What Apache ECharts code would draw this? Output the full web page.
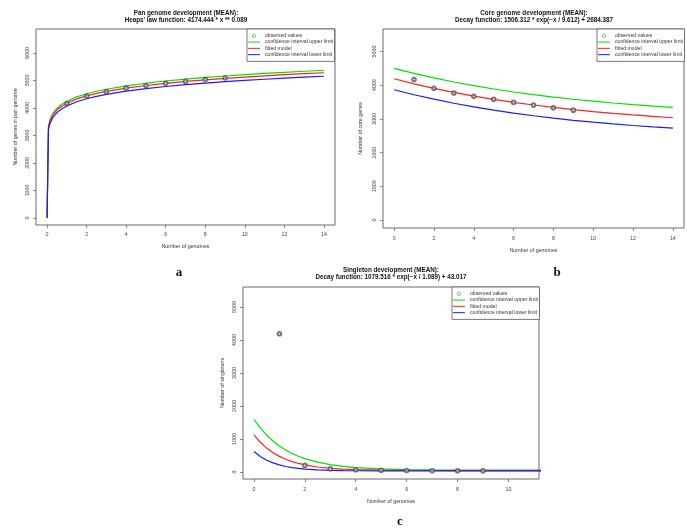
<!DOCTYPE html>
<html><head><meta charset="utf-8">
<script src="https://cdn.jsdelivr.net/npm/echarts@6/dist/echarts.min.js"></script>
<style>html,body{margin:0;padding:0;background:#fff}#chart{width:687px;height:528px}</style>
</head><body><div id="chart"></div>
<script>
// ---------- text ----------
const titlesA = ['Pan genome development (MEAN):', "Heaps' law function: 4174.444 * x ** 0.089"];
const titlesB = ['Core genome development (MEAN):', 'Decay function: 1506.312 * exp(\u2212x / 9.612) + 2684.387'];
const titlesC = ['Singleton development (MEAN):', 'Decay function: 1079.516 * exp(\u2212x / 1.089) + 43.017'];
const legendNames = ['observed values', 'confidence interval upper limit', 'fitted model', 'confidence interval lower limit'];
const xName = 'Number of genomes';
const yNames = ['Number of genes in pan genome', 'Number of core genes', 'Number of singletons'];
const panelLetters = ['a', 'b', 'c'];

// ---------- tick labels ----------
const xTicksAB = [0, 2, 4, 6, 8, 10, 12, 14];
const xTicksC = [0, 2, 4, 6, 8, 10];
const yTicksA = [0, 1000, 2000, 3000, 4000, 5000, 6000];
const yTicksBC = [0, 1000, 2000, 3000, 4000, 5000];

// ---------- data: observed ----------
const obsX = [1, 2, 3, 4, 5, 6, 7, 8, 9];
const panObs = [4160, 4430, 4600, 4720, 4815, 4895, 4965, 5030, 5090];
const coreObs = [4170, 3910, 3770, 3670, 3580, 3490, 3410, 3330, 3260];
const singObs = [4190, 200, 95, 70, 55, 45, 40, 38, 35];

// ---------- data: pan genome curves ----------
const panX = [0, 0.07, 0.15, 0.3, 0.5, 0.75, 1, 1.5, 2, 2.5, 3, 4, 5, 6, 7, 8, 9, 10, 11, 12, 13, 14];
const panFit = [0, 3294, 3526, 3750, 3924, 4069, 4174, 4328, 4440, 4529, 4603, 4722, 4817, 4896, 4964, 5023, 5076, 5124, 5168, 5208, 5245, 5280];
const panUpper = [0, 3350, 3586, 3814, 3991, 4138, 4245, 4402, 4515, 4606, 4681, 4802, 4899, 4979, 5048, 5108, 5162, 5211, 5256, 5296, 5334, 5370];
const panLower = [0, 3215, 3441, 3660, 3830, 3971, 4074, 4224, 4333, 4420, 4493, 4609, 4701, 4779, 4845, 4902, 4954, 5001, 5044, 5083, 5119, 5153];

// ---------- data: core genome curves ----------
const coreX = [0, 1, 2, 3, 4, 5, 6, 7, 8, 9, 10, 11, 12, 13, 14];
const coreFit = [4191, 4042, 3908, 3787, 3678, 3580, 3491, 3412, 3340, 3275, 3217, 3164, 3117, 3074, 3035];
const coreUpper = [4499, 4350, 4216, 4095, 3986, 3888, 3799, 3720, 3648, 3583, 3525, 3472, 3425, 3382, 3343];
const coreLower = [3866, 3718, 3585, 3465, 3357, 3260, 3172, 3094, 3023, 2959, 2902, 2850, 2804, 2762, 2725];

// ---------- data: singleton curves ----------
const singX = [0, 0.25, 0.5, 0.75, 1, 1.25, 1.5, 1.75, 2, 2.5, 3, 3.5, 4, 5, 6, 7, 8, 9, 10, 11, 12, 13, 14];
const singFit = [1122, 901, 725, 585, 474, 386, 315, 259, 215, 152, 112, 87, 70, 54, 47, 45, 44, 43, 43, 43, 43, 43, 43];
const singUpper = [1595, 1335, 1118, 939, 789, 666, 562, 476, 405, 297, 222, 171, 135, 93, 73, 64, 59, 57, 56, 55, 55, 55, 55];
const singLower = [620, 470, 358, 276, 214, 167, 134, 108, 89, 64, 51, 43, 38, 34, 33, 33, 33, 33, 33, 33, 33, 33, 33];

// ---------- helpers ----------
const FONT = '"Liberation Sans", Arial, sans-serif';
const pairs = (xs, ys) => xs.map((x, i) => [x, ys[i]]);
const COLORS = { obs: '#555', up: '#00e000', fit: '#ff2020', low: '#1a1aff' };
const LINE_ICON = 'path://M0,0H12V1H0Z';

function xAxisDef(i, min, max, ticks, margin, gap) {
  return {
    type: 'value', gridIndex: i, min: min, max: max, position: 'bottom',
    name: xName, nameLocation: 'middle', nameGap: gap,
    nameTextStyle: { fontFamily: FONT, fontSize: 5.3, color: '#333' },
    axisLine: { show: false, onZero: false },
    axisTick: { show: true, length: 3, inside: false, customValues: ticks, lineStyle: { color: '#666', width: 0.8 } },
    axisLabel: { show: true, customValues: ticks, margin: margin, fontFamily: FONT, fontSize: 5.3, color: '#444', formatter: v => String(v) },
    splitLine: { show: false }
  };
}
function yAxisDef(i, min, max, ticks, margin, gap, name) {
  return {
    type: 'value', gridIndex: i, min: min, max: max, position: 'left',
    name: name, nameLocation: 'middle', nameGap: gap, nameRotate: 90,
    nameTextStyle: { fontFamily: FONT, fontSize: 5.3, color: '#333' },
    axisLine: { show: false, onZero: false },
    axisTick: { show: true, length: 3, inside: false, customValues: ticks, lineStyle: { color: '#666', width: 0.8 } },
    axisLabel: { show: true, rotate: 90, customValues: ticks, margin: margin, fontFamily: FONT, fontSize: 5.3, color: '#444', formatter: v => String(v) },
    splitLine: { show: false }
  };
}
function lineSeries(name, idx, xs, ys, color) {
  return {
    name: name, type: 'line', xAxisIndex: idx, yAxisIndex: idx,
    data: pairs(xs, ys), showSymbol: false, symbol: 'none',
    smooth: false, clip: true,
    lineStyle: { color: color, width: 1.2 }, itemStyle: { color: color },
    z: 2, animation: false
  };
}
function obsSeries(idx, ys) {
  return {
    name: legendNames[0], type: 'scatter', xAxisIndex: idx, yAxisIndex: idx,
    data: pairs(obsX, ys), symbol: 'emptyCircle', symbolSize: 3.6,
    itemStyle: { color: COLORS.obs, borderColor: COLORS.obs, borderWidth: 0.6 },
    z: 3, animation: false
  };
}
function legendDef(left, top) {
  return {
    orient: 'vertical', left: left, top: top,
    data: [
      { name: legendNames[0], icon: 'circle', itemStyle: { color: 'rgba(0,0,0,0)', borderColor: COLORS.obs, borderWidth: 0.7 } },
      { name: legendNames[1], icon: LINE_ICON, itemStyle: { color: COLORS.up, borderWidth: 0 } },
      { name: legendNames[2], icon: LINE_ICON, itemStyle: { color: COLORS.fit, borderWidth: 0 } },
      { name: legendNames[3], icon: LINE_ICON, itemStyle: { color: COLORS.low, borderWidth: 0 } }
    ],
    selectedMode: false,
    itemWidth: 12, itemHeight: 3.4, itemGap: 0, itemTextGap: 3,
    padding: [3.6, 1.5, 3.6, 1],
    borderColor: '#555', borderWidth: 0.8, borderRadius: 0, backgroundColor: '#fff',
    textStyle: { fontFamily: FONT, fontSize: 5.15, color: '#333', lineHeight: 6.3 }
  };
}
function titleText(cx, y1, y2, lines) {
  return [
    { type: 'text', x: cx, y: y1, style: { text: lines[0], font: 'bold 6.3px ' + FONT, textAlign: 'center', textVerticalAlign: 'middle', fill: '#111' } },
    { type: 'text', x: cx, y: y2, style: { text: lines[1], font: 'bold 6.3px ' + FONT, textAlign: 'center', textVerticalAlign: 'middle', fill: '#111' } }
  ];
}
function letter(x, y, t) {
  return { type: 'text', x: x, y: y, style: { text: t, font: 'bold 13px "Liberation Serif", "Times New Roman", serif', textAlign: 'center', textVerticalAlign: 'middle', fill: '#111' } };
}

const gridStyle = { show: true, borderColor: '#6a6a6a', borderWidth: 1, backgroundColor: 'transparent', outerBoundsMode: 'none', containLabel: false };

const option = {
  animation: false,
  backgroundColor: '#fff',
  grid: [
    Object.assign({ left: 36, top: 29, width: 299, height: 196 }, gridStyle),
    Object.assign({ left: 383, top: 29, width: 301, height: 199 }, gridStyle),
    Object.assign({ left: 243, top: 287, width: 296, height: 192 }, gridStyle)
  ],
  xAxis: [
    xAxisDef(0, -0.56, 14.56, xTicksAB, 7, 19),
    xAxisDef(1, -0.56, 14.56, xTicksAB, 8, 20),
    xAxisDef(2, -0.43, 11.2, xTicksC, 8, 20)
  ],
  yAxis: [
    yAxisDef(0, -255, 6870, yTicksA, 6, 18, yNames[0]),
    yAxisDef(1, -237, 5668, yTicksBC, 5.5, 20, yNames[1]),
    yAxisDef(2, -212, 5606, yTicksBC, 6, 18, yNames[2])
  ],
  legend: [legendDef(247, 29), legendDef(597, 29), legendDef(452, 287)],
  series: [
    lineSeries(legendNames[1], 0, panX, panUpper, COLORS.up),
    lineSeries(legendNames[2], 0, panX, panFit, COLORS.fit),
    lineSeries(legendNames[3], 0, panX, panLower, COLORS.low),
    obsSeries(0, panObs),
    lineSeries(legendNames[1], 1, coreX, coreUpper, COLORS.up),
    lineSeries(legendNames[2], 1, coreX, coreFit, COLORS.fit),
    lineSeries(legendNames[3], 1, coreX, coreLower, COLORS.low),
    obsSeries(1, coreObs),
    lineSeries(legendNames[1], 2, singX, singUpper, COLORS.up),
    lineSeries(legendNames[2], 2, singX, singFit, COLORS.fit),
    lineSeries(legendNames[3], 2, singX, singLower, COLORS.low),
    obsSeries(2, singObs)
  ],
  graphic: [].concat(
    titleText(186, 13.3, 20.7, titlesA),
    titleText(534, 13.3, 20.7, titlesB),
    titleText(391, 270, 277.3, titlesC),
    [letter(179, 273, panelLetters[0]), letter(557, 273, panelLetters[1]), letter(400, 522, panelLetters[2])]
  )
};

const chart = echarts.init(document.getElementById('chart'), null, { renderer: 'canvas' });
chart.setOption(option);
</script>
</body></html>
